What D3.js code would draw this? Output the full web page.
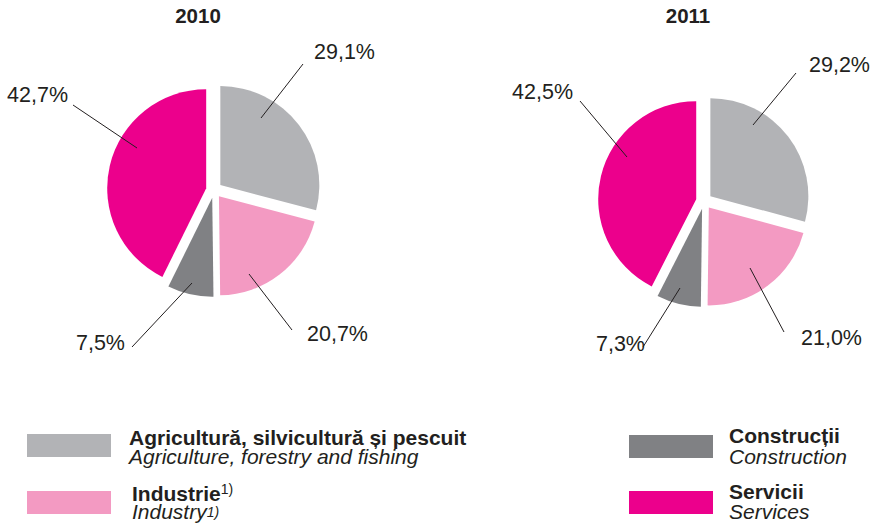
<!DOCTYPE html>
<html><head><meta charset="utf-8">
<script src="https://cdn.jsdelivr.net/npm/d3@7"></script>
<style>body{margin:0;background:#fff}svg{display:block}text{font-family:"Liberation Sans",Arial,Helvetica,sans-serif;fill:#231f20}</style>
</head><body>
<script>
// ---- data ----
const categories = ["Agricultură, silvicultură și pescuit", "Industrie", "Construcții", "Servicii"];
const categoriesEn = ["Agriculture, forestry and fishing", "Industry", "Construction", "Services"];
const years = ["2010", "2011"];
const values2010 = [29.1, 20.7, 7.5, 42.7];
const values2011 = [29.2, 21.0, 7.3, 42.5];
const valueLabels2010 = ["29,1%", "20,7%", "7,5%", "42,7%"];
const valueLabels2011 = ["29,2%", "21,0%", "7,3%", "42,5%"];
const colors = ["#b2b3b6", "#f39ac2", "#808184", "#ec008c"];

// ---- layout (not data) ----
const W = 874, H = 527;
const pies = [
  {cx: 214, cy: 190, r: 99, title: years[0], values: values2010, labels: valueLabels2010,
   lead: [
     {i:[47,-72], o:[89,-126], t:[100,-131], a:"start"},
     {i:[35,84],  o:[78,140],  t:[93,151],   a:"start"},
     {i:[-22,93], o:[-82,157], t:[-89,160],  a:"end"},
     {i:[-77,-42],o:[-141,-85],t:[-146,-88], a:"end"}]},
  {cx: 704, cy: 201, r: 98, title: years[1], values: values2011, labels: valueLabels2011,
   lead: [
     {i:[49,-76], o:[92,-128], t:[105,-129], a:"start"},
     {i:[46,67],  o:[80,131],  t:[97,144],   a:"start"},
     {i:[-24,87], o:[-61,146], t:[-59,150],  a:"end"},
     {i:[-77,-44],o:[-124,-100],t:[-131,-102],a:"end"}]}
];
const explode = 8;

const svg = d3.select("body").append("svg").attr("width", W).attr("height", H);
const pie = d3.pie().sort(null).value(d => d);

pies.forEach(p => {
  const g = svg.append("g").attr("transform", `translate(${p.cx},${p.cy})`);
  const arcs = pie(p.values);
  const arc = d3.arc().innerRadius(0).outerRadius(p.r);
  g.selectAll("path").data(arcs).join("path")
    .attr("d", arc)
    .attr("fill", (d, i) => colors[i])
    .attr("transform", d => {
      const m = (d.startAngle + d.endAngle) / 2;
      return `translate(${explode * Math.sin(m)},${-explode * Math.cos(m)})`;
    });
  svg.append("text").attr("x", p.cx - 16).attr("y", 23).attr("text-anchor", "middle")
    .attr("font-weight", "bold").attr("font-size", 20.5).text(p.title);
  p.lead.forEach((L, i) => {
    g.append("line").attr("x1", L.i[0]).attr("y1", L.i[1]).attr("x2", L.o[0]).attr("y2", L.o[1])
      .attr("stroke", "#231f20").attr("stroke-width", 1);
    g.append("text").attr("x", L.t[0]).attr("y", L.t[1]).attr("text-anchor", L.a)
      .attr("font-size", 21.5).text(p.labels[i]);
  });
});

// ---- legend ----
const legendPos = [
  {x: 27, y: 434, tx: 129, b1: 445, b2: 464},
  {x: 27, y: 491, tx: 132, b1: 501, b2: 519},
  {x: 629, y: 435, tx: 729, b1: 443, b2: 464},
  {x: 629, y: 491, tx: 729, b1: 499, b2: 519}
];
const sup = [false, true, false, false];
categories.forEach((c, i) => {
  const L = legendPos[i];
  svg.append("rect").attr("x", L.x).attr("y", L.y).attr("width", 84).attr("height", 23).attr("fill", colors[i]);
  const t1 = svg.append("text").attr("x", L.tx).attr("y", L.b1).attr("font-weight", "bold").attr("font-size", 21);
  t1.append("tspan").text(c);
  if (sup[i]) t1.append("tspan").attr("font-weight", "normal").attr("font-size", 14).attr("dy", -7).text("1)");
  const t2 = svg.append("text").attr("x", L.tx).attr("y", L.b2).attr("font-style", "italic").attr("font-size", 21);
  t2.append("tspan").text(categoriesEn[i]);
  if (sup[i]) t2.append("tspan").attr("font-size", 14).attr("dy", -2).text("1)");
});
</script>
</body></html>
